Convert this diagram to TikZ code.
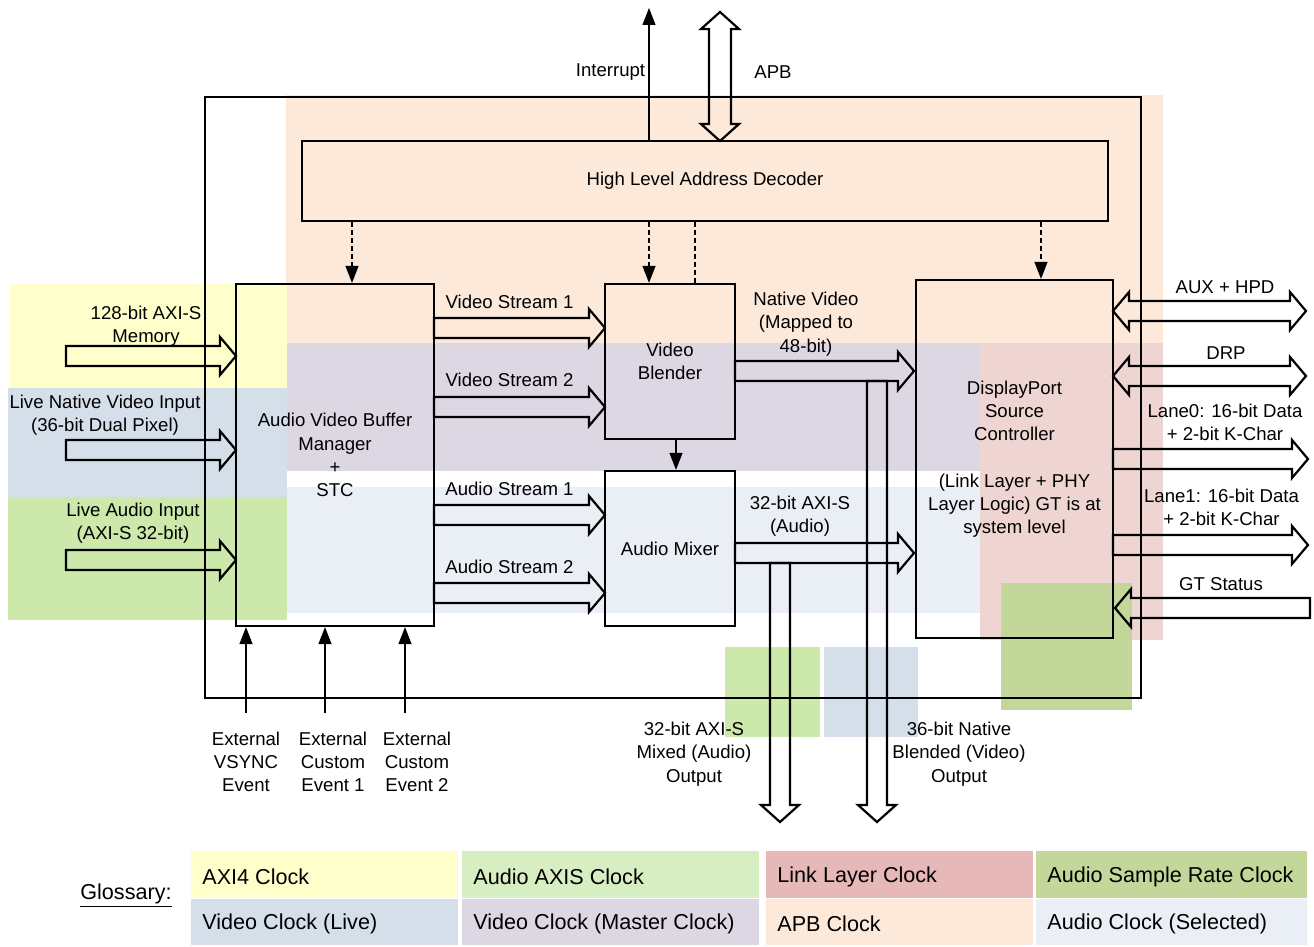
\documentclass[tikz,border=0pt]{standalone}
\usepackage{fontspec}
\setmainfont{Liberation Sans}
\usetikzlibrary{arrows.meta,positioning}

% clock domain colours
\definecolor{axifour}{HTML}{FFFFCC}
\definecolor{axisclk}{HTML}{CCE8AA}
\definecolor{axisgl}{HTML}{D7EDC2}
\definecolor{linkclk}{HTML}{EFD5D2}
\definecolor{linkgl}{HTML}{E6B8B7}
\definecolor{srclk}{HTML}{C4D79B}
\definecolor{vlive}{HTML}{D5DFEA}
\definecolor{vmaster}{HTML}{DDD7E4}
\definecolor{apbclk}{HTML}{FCE9DA}
\definecolor{audsel}{HTML}{EAEEF5}

\newcommand{\dfont}{\fontsize{9.3}{11.6}\selectfont}
\newcommand{\gfont}{\fontsize{10.8}{13}\selectfont}

% hollow (bus) arrows: right, left, both ways, down
\newcommand{\fatR}[3]{\draw[fat] (#1,#3-10) -- (#2-16,#3-10) -- (#2-16,#3-19) -- (#2,#3) -- (#2-16,#3+19) -- (#2-16,#3+10) -- (#1,#3+10) -- cycle;}
\newcommand{\fatL}[3]{\draw[fat] (#1,#3-10) -- (#2+16,#3-10) -- (#2+16,#3-19) -- (#2,#3) -- (#2+16,#3+19) -- (#2+16,#3+10) -- (#1,#3+10) -- cycle;}
\newcommand{\fatLR}[3]{\draw[fat] (#1,#3) -- (#1+16,#3-19) -- (#1+16,#3-10) -- (#2-16,#3-10) -- (#2-16,#3-19) -- (#2,#3) -- (#2-16,#3+19) -- (#2-16,#3+10) -- (#1+16,#3+10) -- (#1+16,#3+19) -- cycle;}
\newcommand{\fatD}[3]{\draw[fat] (#1-10,#2) -- (#1-10,#3-17) -- (#1-19,#3-17) -- (#1,#3) -- (#1+19,#3-17) -- (#1+10,#3-17) -- (#1+10,#2) -- cycle;}

\tikzset{
  blockbox/.style={draw, line width=1.1pt, align=center, inner sep=0pt},
  lbl/.style={align=center, inner sep=0pt},
  fat/.style={line width=1.1pt, line join=miter},
  ctrl/.style={line width=0.6pt, -{Triangle[length=8.5pt,width=6.5pt]}},
  regctrl/.style={ctrl, dash pattern=on 2.5pt off 1.5pt},
  gloss/.style={anchor=west, inner sep=0pt, font=\gfont},
}

\begin{document}
\begin{tikzpicture}[x=0.5pt, y=-0.5pt, every node/.style={font=\dfont}]
  \useasboundingbox (0,0) rectangle (1314,947);

  % clock regions
  \fill[apbclk] (286,95) rectangle (1163,343);
  \fill[vmaster] (286,343) rectangle (980,471);
  \fill[audsel] (286,487) rectangle (980,613);
  \fill[linkclk] (980,343) rectangle (1163,640);
  \fill[srclk] (1001,583) rectangle (1132,710);
  \fill[axifour] (10,284) rectangle (287,388);
  \fill[vlive] (8,388) rectangle (287,497);
  \fill[axisclk] (8,497) rectangle (287,620);
  \fill[axisclk] (725,647) rectangle (820,737);
  \fill[vlive] (824,647) rectangle (918,737);

  % core frame and blocks
  \draw[line width=1.1pt] (205,97) rectangle (1141,698);
  \node[blockbox, minimum width=403pt, minimum height=40pt] (hlad) at (705,181) {High Level Address Decoder};
  \node[blockbox, minimum width=99pt, minimum height=171pt] (avbm) at (335,455) {Audio Video Buffer\\Manager\\+\\STC};
  \node[blockbox, minimum width=65pt, minimum height=77.5pt] (blender) at (670,361.5) {Video\\Blender};
  \node[blockbox, minimum width=65pt, minimum height=77.5pt] (mixer) at (670,548.5) {Audio Mixer};
  \node[blockbox, minimum width=98.5pt, minimum height=179pt] (dpsc) at (1014.5,459) {DisplayPort\\Source\\Controller\\[11.6pt](Link Layer + PHY\\Layer Logic) GT is at\\system level};

  % processor interface
  \coordinate (irq) at (649,8);
  \draw[ctrl] (irq |- hlad.north) -- (irq);
  \draw[fat] (720,12) -- (739,29) -- (731,29) -- (731,124) -- (739,124) -- (720,141) -- (701,124) -- (709,124) -- (709,29) -- (701,29) -- cycle;
  \node[lbl] (irqlbl) at (610.5,72) {Interrupt};
  \node[lbl] (apblbl) at (773,72) {APB};

  % register control
  \draw[regctrl] (hlad.south -| 352,0) -- (avbm.north -| 352,0);
  \draw[regctrl] (hlad.south -| 649,0) -- (blender.north -| 649,0);
  \draw[line width=0.6pt, dash pattern=on 2.5pt off 1.5pt] (hlad.south -| 695,0) -- (blender.north -| 695,0);
  \draw[regctrl] (hlad.south -| 1041,0) -- (dpsc.north -| 1041,0);
  \draw[ctrl] (blender.south -| 676,0) -- (mixer.north -| 676,0);

  % inputs
  \fatR{66}{236}{356}
  \fatR{66}{236}{450}
  \fatR{66}{236}{560}
  \node[lbl] (memlbl) at (146,326) {128-bit AXI-S\\Memory};
  \node[lbl] (vidlbl) at (105,415) {Live Native Video Input\\(36-bit Dual Pixel)};
  \node[lbl] (audlbl) at (133,523) {Live Audio Input\\(AXI-S 32-bit)};

  % streams
  \fatR{434}{605}{328}
  \fatR{434}{605}{407}
  \fatR{434}{605}{515}
  \fatR{434}{605}{593}
  \node[lbl] (vs1) at (509.5,302) {Video Stream 1};
  \node[lbl] (vs2) at (509.5,380) {Video Stream 2};
  \node[lbl] (as1) at (509.5,489) {Audio Stream 1};
  \node[lbl] (as2) at (509.5,567) {Audio Stream 2};

  % outputs to controller and to the outside
  \fatR{735}{914}{371}
  \fatR{735}{914}{553}
  \fatD{877}{381}{822}
  \fatD{780}{563}{822}
  \node[lbl] (nvlbl) at (806,324) {Native Video\\(Mapped to\\48-bit)};
  \node[lbl] (aalbl) at (800,516) {32-bit AXI-S\\(Audio)};
  \node[lbl] (mixout) at (694,754) {32-bit AXI-S\\Mixed (Audio)\\Output};
  \node[lbl] (blendout) at (959,754) {36-bit Native\\Blended (Video)\\Output};

  % link side
  \fatLR{1113}{1306}{311}
  \fatLR{1113}{1306}{376}
  \fatR{1113}{1308}{459}
  \fatR{1113}{1308}{545}
  \fatL{1310}{1115}{608}
  \node[lbl] (auxlbl) at (1225,287) {AUX + HPD};
  \node[lbl] (drplbl) at (1226,353) {DRP};
  \node[lbl] (ln0lbl) at (1225,422) {Lane0: 16-bit Data\\+ 2-bit K-Char};
  \node[lbl] (ln1lbl) at (1221.5,507) {Lane1: 16-bit Data\\+ 2-bit K-Char};
  \node[lbl] (gtlbl) at (1221,584) {GT Status};

  % external events
  \coordinate (ev1) at (246,713);
  \coordinate (ev2) at (325,713);
  \coordinate (ev3) at (405,713);
  \foreach \e in {ev1,ev2,ev3}
    \draw[ctrl] (\e) -- (\e |- avbm.south);
  \node[lbl] (ev1lbl) at (246,762) {External\\VSYNC\\Event};
  \node[lbl] (ev2lbl) at (333,762) {External\\Custom\\Event 1};
  \node[lbl] (ev3lbl) at (417,762) {External\\Custom\\Event 2};

  % glossary
  \node[lbl, font=\gfont] (glossary) at (126,896) {\underline{Glossary:}};
  \foreach \xa/\xb/\ya/\yb/\col/\txt in {
      191/458/851/898/axifour/AXI4 Clock,
      462/759/851/898/axisgl/Audio AXIS Clock,
      766/1033/851/898/linkgl/Link Layer Clock,
      1036/1307/851/898/srclk/Audio Sample Rate Clock,
      191/458/899/945/vlive/Video Clock (Live),
      462/759/899/945/vmaster/Video Clock (Master Clock),
      766/1033/899/945/apbclk/APB Clock,
      1036/1307/899/945/audsel/Audio Clock (Selected)} {
    \fill[\col] (\xa,\ya) rectangle (\xb,\yb);
    \node[gloss] at (\xa+11,{(\ya+\yb)/2+2}) {\txt};
  }
\end{tikzpicture}
\end{document}
